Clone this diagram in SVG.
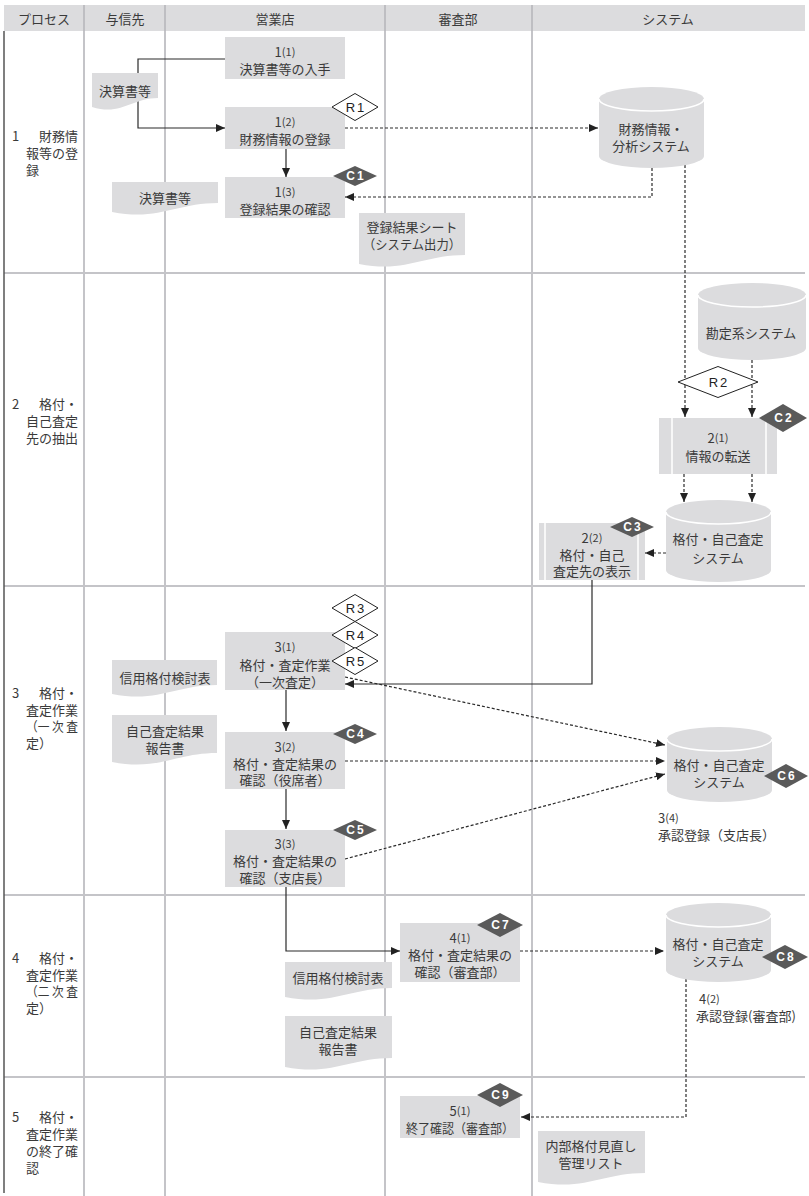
<svg xmlns="http://www.w3.org/2000/svg" width="809" height="1196" viewBox="0 0 809 1196">
<style>
.t{font-family:"Noto Sans CJK JP","Noto Sans",sans-serif;font-size:13px;fill:#3a3a3a;dominant-baseline:central}
.m{text-anchor:middle}
.sm{font-size:11px}
.box{fill:#dcdcde}
.lane{stroke:#c4c4c8;stroke-width:2;fill:none}
.sl{stroke:#2a2a2a;stroke-width:1.2;fill:none}
.dl{stroke:#2a2a2a;stroke-width:1.2;fill:none;stroke-dasharray:3 2}
.rd{fill:#fff;stroke:#222;stroke-width:1}
.cd{fill:#5a5a5a}
.rt{font-family:"Liberation Sans",sans-serif;font-size:13px;fill:#222;text-anchor:middle;dominant-baseline:central;letter-spacing:2px}
.ctx{font-family:"Liberation Sans",sans-serif;font-size:12px;font-weight:bold;fill:#fff;text-anchor:middle;dominant-baseline:central;letter-spacing:2px}
.rim{fill:none;stroke:#fff;stroke-width:1.5}
</style>
<defs>
<marker id="ah" markerWidth="9" markerHeight="8" refX="9" refY="4" orient="auto" markerUnits="userSpaceOnUse"><path d="M0,0 L9,4 L0,8 z" fill="#222"/></marker>
</defs>
<rect width="809" height="1196" fill="#fff"/>
<g id="frame">
<rect x="4" y="5" width="801" height="26" fill="#dcdcde"/>
<g stroke="#b4b4b8" stroke-width="1.5"><line x1="84" y1="5" x2="84" y2="31"/><line x1="165" y1="5" x2="165" y2="31"/><line x1="385" y1="5" x2="385" y2="31"/><line x1="532" y1="5" x2="532" y2="31"/></g>
<text class="t m" x="44" y="18">プロセス</text>
<text class="t m" x="125" y="18">与信先</text>
<text class="t m" x="275" y="18">営業店</text>
<text class="t m" x="458" y="18">審査部</text>
<text class="t m" x="668" y="18">システム</text>
<path class="lane" d="M84,31 V1196 M165,31 V1196 M385,31 V1196 M532,31 V1196"/>
<path class="lane" d="M4,273 H805 M4,586 H805 M4,895 H805 M4,1077 H805"/>
<line x1="4" y1="31" x2="4" y2="1193" stroke="#555" stroke-width="1.5"/>
</g>
<g id="process-labels">
<text class="t" x="12" y="135">1<tspan x="39">財務情</tspan><tspan x="26" dy="17">報等の登</tspan><tspan x="26" dy="17">録</tspan></text>
<text class="t" x="12" y="403">2<tspan x="39">格付・</tspan><tspan x="26" dy="17">自己査定</tspan><tspan x="26" dy="17">先の抽出</tspan></text>
<text class="t" x="12" y="692">3<tspan x="39">格付・</tspan><tspan x="26" dy="16.7">査定作業</tspan><tspan x="26" dy="16.7" textLength="52" lengthAdjust="spacingAndGlyphs">（一 次 査</tspan><tspan x="26" dy="16.7">定）</tspan></text>
<text class="t" x="12" y="957">4<tspan x="39">格付・</tspan><tspan x="26" dy="16.5">査定作業</tspan><tspan x="26" dy="16.5" textLength="52" lengthAdjust="spacingAndGlyphs">（二 次 査</tspan><tspan x="26" dy="16.5">定）</tspan></text>
<text class="t" x="12" y="1116">5<tspan x="39">格付・</tspan><tspan x="26" dy="17">査定作業</tspan><tspan x="26" dy="17">の終了確</tspan><tspan x="26" dy="17">認</tspan></text>
</g>
<g id="connectors">
<path class="sl" d="M225,59 H138 V128 H225" marker-end="url(#ah)"/>
<path class="sl" d="M286,149 V177" marker-end="url(#ah)"/>
<path class="dl" d="M345,128 H598" marker-end="url(#ah)"/>
<path class="dl" d="M652,168 V197 H345" marker-end="url(#ah)"/>
<path class="dl" d="M685,165 V417" marker-end="url(#ah)"/>
<path class="dl" d="M752,360 V417" marker-end="url(#ah)"/>
<path class="dl" d="M684,474 V502" marker-end="url(#ah)"/>
<path class="dl" d="M752,474 V502" marker-end="url(#ah)"/>
<path class="dl" d="M666,553 H645" marker-end="url(#ah)"/>
<path class="sl" d="M592,580 V684 H345" marker-end="url(#ah)"/>
<path class="dl" d="M345,677 L665,745" marker-end="url(#ah)"/>
<path class="dl" d="M345,761 H665" marker-end="url(#ah)"/>
<path class="dl" d="M345,859 L665,774" marker-end="url(#ah)"/>
<path class="sl" d="M286,690 V731" marker-end="url(#ah)"/>
<path class="sl" d="M286,789 V829" marker-end="url(#ah)"/>
<path class="sl" d="M286,887 V951 H400" marker-end="url(#ah)"/>
<path class="dl" d="M520,951 H664" marker-end="url(#ah)"/>
<path class="dl" d="M686,979 V1117 H521" marker-end="url(#ah)"/>
</g>
<g id="doc-kessan1"><path class="box" d="M92,73 H158 V98 C131.6,98 121.7,116 92,107 Z"/><text class="t m" x="125" y="90">決算書等</text></g>
<g id="doc-kessan2"><path class="box" d="M112,182 H218 V203 C175.6,203 159.7,221 112,212 Z"/><text class="t m" x="165" y="197">決算書等</text></g>
<g id="doc-toroku"><path class="box" d="M359,213 H465 V255 C422.6,255 406.7,273 359,264 Z"/><text class="t m" x="412" y="226">登録結果シート<tspan x="412" dy="17" textLength="98" lengthAdjust="spacingAndGlyphs">（システム出力）</tspan></text></g>
<g id="doc-shinyo3"><path class="box" d="M112,660 H217 V685 C175,685 159.2,703 112,694 Z"/><text class="t m" x="165" y="677">信用格付検討表</text></g>
<g id="doc-jiko3"><path class="box" d="M112,715 H217 V753 C175,753 159.2,771 112,762 Z"/><text class="t m" x="165" y="730">自己査定結果<tspan x="165" dy="16.5">報告書</tspan></text></g>
<g id="doc-shinyo4"><path class="box" d="M285,962 H392 V988 C349.2,988 333.2,1006 285,997 Z"/><text class="t m" x="338" y="977">信用格付検討表</text></g>
<g id="doc-jiko4"><path class="box" d="M285,1016 H392 V1058 C349.2,1058 333.2,1076 285,1067 Z"/><text class="t m" x="338" y="1031">自己査定結果<tspan x="338" dy="16.5">報告書</tspan></text></g>
<g id="doc-naibu"><path class="box" d="M538,1131 H645 V1173 C602.2,1173 586.2,1191 538,1182 Z"/><text class="t m" x="591" y="1145">内部格付見直し<tspan x="591" dy="16.5">管理リスト</tspan></text></g>
<g id="n1-1"><rect class="box" x="225" y="37" width="120" height="42"/><text class="t m" x="285" y="51">1<tspan class="sm">(1)</tspan><tspan x="285" dy="16.5">決算書等の入手</tspan></text></g>
<g id="n1-2"><rect class="box" x="225" y="107" width="120" height="42"/><text class="t m" x="285" y="121">1<tspan class="sm">(2)</tspan><tspan x="285" dy="16.5">財務情報の登録</tspan></text></g>
<g id="n1-3"><rect class="box" x="225" y="177" width="120" height="41"/><text class="t m" x="285" y="191">1<tspan class="sm">(3)</tspan><tspan x="285" dy="16.5">登録結果の確認</tspan></text></g>
<g id="n2-1"><rect class="box" x="659" y="418" width="118" height="56"/><path d="M672,418 V474 M766,418 V474" stroke="#fff" stroke-width="1.5"/><text class="t m" x="718" y="437">2<tspan class="sm">(1)</tspan><tspan x="718" dy="18">情報の転送</tspan></text></g>
<g id="n2-2"><rect class="box" x="539" y="523" width="106" height="57"/><path d="M545,523 V580 M638,523 V580" stroke="#fff" stroke-width="1.5"/><text class="t m" x="592" y="537">2<tspan class="sm">(2)</tspan><tspan x="592" dy="16.5">格付・自己</tspan><tspan x="592" dy="16.5">査定先の表示</tspan></text></g>
<g id="n3-1"><rect class="box" x="225" y="632" width="120" height="58"/><text class="t m" x="285" y="646">3<tspan class="sm">(1)</tspan><tspan x="285" dy="17.5">格付・査定作業</tspan><tspan x="285" dy="17">（一次査定）</tspan></text></g>
<g id="n3-2"><rect class="box" x="225" y="732" width="120" height="57"/><text class="t m" x="285" y="746">3<tspan class="sm">(2)</tspan><tspan x="285" dy="16.5">格付・査定結果の</tspan><tspan x="285" dy="16.5">確認（役席者）</tspan></text></g>
<g id="n3-3"><rect class="box" x="225" y="830" width="120" height="57"/><text class="t m" x="285" y="843">3<tspan class="sm">(3)</tspan><tspan x="285" dy="17">格付・査定結果の</tspan><tspan x="285" dy="17">確認（支店長）</tspan></text></g>
<g id="n4-1"><rect class="box" x="400" y="923" width="120" height="59"/><text class="t m" x="460" y="937">4<tspan class="sm">(1)</tspan><tspan x="460" dy="17">格付・査定結果の</tspan><tspan x="460" dy="16.5">確認（審査部）</tspan></text></g>
<g id="n5-1"><rect class="box" x="400" y="1096" width="120" height="42"/><text class="t m" x="460" y="1110">5<tspan class="sm">(1)</tspan><tspan x="460" dy="17" textLength="108" lengthAdjust="spacingAndGlyphs">終了確認（審査部）</tspan></text></g>
<g id="db-zaimu"><path class="box" d="M599,99 A52.5,12 0 0 1 704,99 V156 A52.5,12 0 0 1 599,156 Z"/><path class="rim" d="M599,99 A52.5,12 0 0 0 704,99"/><text class="t m" x="651" y="128">財務情報・<tspan x="651" dy="17">分析システム</tspan></text></g>
<g id="db-kanjo"><path class="box" d="M698,295 A54,12 0 0 1 806,295 V348 A54,12 0 0 1 698,348 Z"/><path class="rim" d="M698,295 A54,12 0 0 0 806,295"/><text class="t m" x="751" y="332">勘定系システム</text></g>
<g id="db-kakuzuke2"><path class="box" d="M666,512 A52.5,12 0 0 1 771,512 V570 A52.5,12 0 0 1 666,570 Z"/><path class="rim" d="M666,512 A52.5,12 0 0 0 771,512"/><text class="t m" x="718" y="538">格付・自己査定<tspan x="718" dy="19">システム</tspan></text></g>
<g id="db-kakuzuke3"><path class="box" d="M667,739 A52.5,12 0 0 1 772,739 V790 A52.5,12 0 0 1 667,790 Z"/><path class="rim" d="M667,739 A52.5,12 0 0 0 772,739"/><text class="t m" x="719" y="764">格付・自己査定<tspan x="719" dy="16.5">システム</tspan></text></g>
<g id="db-kakuzuke4"><path class="box" d="M666,915 A52.5,12 0 0 1 771,915 V970 A52.5,12 0 0 1 666,970 Z"/><path class="rim" d="M666,915 A52.5,12 0 0 0 771,915"/><text class="t m" x="718" y="943">格付・自己査定<tspan x="718" dy="17">システム</tspan></text></g>
<g id="label-3-4"><text class="t" x="658" y="817">3<tspan class="sm">(4)</tspan><tspan x="658" dy="16.5">承認登録（支店長）</tspan></text></g>
<g id="label-4-2"><text class="t" x="699" y="998">4<tspan class="sm">(2)</tspan><tspan x="696" dy="17">承認登録(審査部)</tspan></text></g>
<g id="r1"><path class="rd" d="M332,107 L355,93.5 L378,107 L355,120.5 Z"/><text class="rt" x="356" y="107">R1</text></g>
<g id="r2"><path class="rd" d="M678,382 L718,366.5 L758,382 L718,397.5 Z"/><text class="rt" x="719" y="382">R2</text></g>
<g id="r3"><path class="rd" d="M332,608 L355,594.5 L378,608 L355,621.5 Z"/><text class="rt" x="356" y="608">R3</text></g>
<g id="r4"><path class="rd" d="M332,635 L355,621.5 L378,635 L355,648.5 Z"/><text class="rt" x="356" y="635">R4</text></g>
<g id="r5"><path class="rd" d="M332,661 L355,647.5 L378,661 L355,674.5 Z"/><text class="rt" x="356" y="661">R5</text></g>
<g id="c1"><path class="cd" d="M333,176 L355,166 L377,176 L355,186 Z"/><text class="ctx" x="356" y="176">C1</text></g>
<g id="c2"><path class="cd" d="M759,418 L783,404 L807,418 L783,432 Z"/><text class="ctx" x="784" y="418">C2</text></g>
<g id="c3"><path class="cd" d="M610,527 L632,517 L654,527 L632,537 Z"/><text class="ctx" x="633" y="527">C3</text></g>
<g id="c4"><path class="cd" d="M333,734 L355,724 L377,734 L355,744 Z"/><text class="ctx" x="356" y="734">C4</text></g>
<g id="c5"><path class="cd" d="M333,830 L355,820 L377,830 L355,840 Z"/><text class="ctx" x="356" y="830">C5</text></g>
<g id="c6"><path class="cd" d="M764,776 L786,764 L808,776 L786,788 Z"/><text class="ctx" x="787" y="776">C6</text></g>
<g id="c7"><path class="cd" d="M477,925 L500,913 L523,925 L500,937 Z"/><text class="ctx" x="501" y="925">C7</text></g>
<g id="c8"><path class="cd" d="M762,957 L785,945 L808,957 L785,969 Z"/><text class="ctx" x="786" y="957">C8</text></g>
<g id="c9"><path class="cd" d="M477,1095 L500,1083 L523,1095 L500,1107 Z"/><text class="ctx" x="501" y="1095">C9</text></g>
</svg>
